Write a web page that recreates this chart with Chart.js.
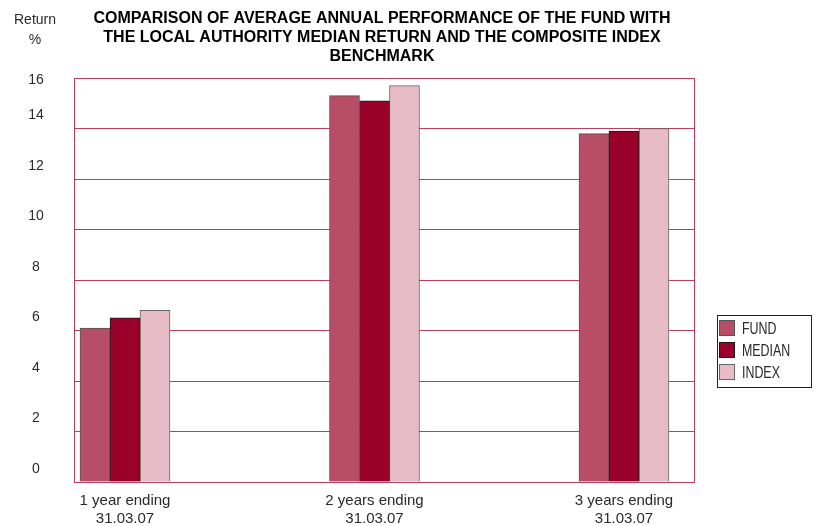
<!DOCTYPE html>
<html>
<head>
<meta charset="utf-8">
<script src="https://cdn.jsdelivr.net/npm/chart.js@4.4.1/dist/chart.umd.min.js"></script>
<style>
html,body{margin:0;padding:0;background:#fff;}
#wrap{width:816px;height:526px;}
</style>
</head>
<body>
<div id="wrap"><canvas id="c" width="816" height="526"></canvas></div>
<script>
const categories = [['1 year ending', '31.03.07'], ['2 years ending', '31.03.07'], ['3 years ending', '31.03.07']];
const seriesNames = ['FUND', 'MEDIAN', 'INDEX'];
const fundValues = [6.1, 15.3, 13.8];
const medianValues = [6.5, 15.1, 13.9];
const indexValues = [6.8, 15.7, 14.0];
const yTickValues = [0, 2, 4, 6, 8, 10, 12, 14, 16];
const titleLines = ['COMPARISON OF AVERAGE ANNUAL PERFORMANCE OF THE FUND WITH', 'THE LOCAL AUTHORITY MEDIAN RETURN AND THE COMPOSITE INDEX', 'BENCHMARK'];
const yAxisTitle = ['Return', '%'];

const fillColors = ['#b84d67', '#9a0029', '#e7bcc6'];
const edgeColors = ['#555555', '#1a1a1a', '#666666'];
const gridColor = '#b83e5e';
const textColor = '#2a2a2a';
const sans = "'Liberation Sans', Arial, Helvetica, sans-serif";

const allSeries = [fundValues, medianValues, indexValues];
const datasets = allSeries.map((vals, d) => ({
  label: seriesNames[d],
  data: vals.map((v, i) => ({ x: i, y: v })),
  backgroundColor: fillColors[d],
  borderColor: edgeColors[d],
  borderWidth: 1,
  borderSkipped: 'bottom',
  barThickness: 30
}));

const decor = {
  id: 'decor',
  afterDraw(chart) {
    const ctx = chart.ctx;
    const a = chart.chartArea;
    const ys = chart.scales.y;
    ctx.save();
    // right frame
    ctx.strokeStyle = gridColor;
    ctx.lineWidth = 1;
    ctx.beginPath();
    ctx.moveTo(Math.round(a.right) + 0.5, a.top);
    ctx.lineTo(Math.round(a.right) + 0.5, a.bottom);
    ctx.stroke();
    // y tick labels
    ctx.fillStyle = textColor;
    ctx.font = '14px ' + sans;
    ctx.textAlign = 'center';
    ctx.textBaseline = 'middle';
    yTickValues.forEach(v => {
      const py = ys.getPixelForValue(v) + (v === 16 ? 2 : -13);
      ctx.fillText(String(v), 36, py);
    });
    // axis title
    ctx.fillText(yAxisTitle[0], 35, 20);
    ctx.fillText(yAxisTitle[1], 35, 40);
    // chart title
    ctx.fillStyle = '#000';
    ctx.font = 'bold 16px ' + sans;
    titleLines.forEach((t, i) => ctx.fillText(t, 382, 19 + i * 19));
    // legend
    const lx = 717, ly = 315, lw = 94, lh = 72;
    ctx.strokeStyle = '#222';
    ctx.strokeRect(lx + 0.5, ly + 0.5, lw, lh);
    ctx.font = '17px ' + sans;
    ctx.textAlign = 'left';
    chart.data.datasets.forEach((ds, i) => {
      const cy = 328 + i * 22;
      ctx.fillStyle = ds.backgroundColor;
      ctx.fillRect(720, cy - 7, 14, 14);
      ctx.strokeStyle = ds.borderColor;
      ctx.strokeRect(719.5, cy - 7.5, 15, 15);
      ctx.fillStyle = textColor;
      ctx.save();
      ctx.translate(742, cy + 1);
      ctx.scale(0.73, 1);
      ctx.fillText(ds.label, 0, 0);
      ctx.restore();
    });
    ctx.restore();
  }
};

new Chart(document.getElementById('c'), {
  type: 'bar',
  data: { datasets },
  options: {
    responsive: false,
    animation: false,
    layout: { padding: { top: 78, right: 122, left: 0, bottom: 0 } },
    plugins: { legend: { display: false }, tooltip: { enabled: false }, title: { display: false } },
    scales: {
      x: {
        type: 'linear',
        offset: false,
        min: -0.2044,
        max: 2.2806,
        afterBuildTicks: (s) => { s.ticks = categories.map((c, i) => ({ value: i })); },
        afterFit: (s) => { s.height = 44; },
        grid: { display: false, drawTicks: false, offset: false },
        border: { display: true, color: gridColor, width: 1 },
        ticks: {
          autoSkip: false,
          maxRotation: 0,
          padding: 9,
          color: textColor,
          font: { family: sans, size: 15, lineHeight: 1.25 },
          callback: (v) => categories[v]
        }
      },
      y: {
        min: 0,
        max: 16,
        afterFit: (s) => { s.width = 74; },
        grid: { color: gridColor, lineWidth: 1, drawTicks: false },
        border: { display: true, color: gridColor, width: 1 },
        ticks: { stepSize: 2, display: false }
      }
    }
  },
  plugins: [decor]
});
</script>
</body>
</html>
